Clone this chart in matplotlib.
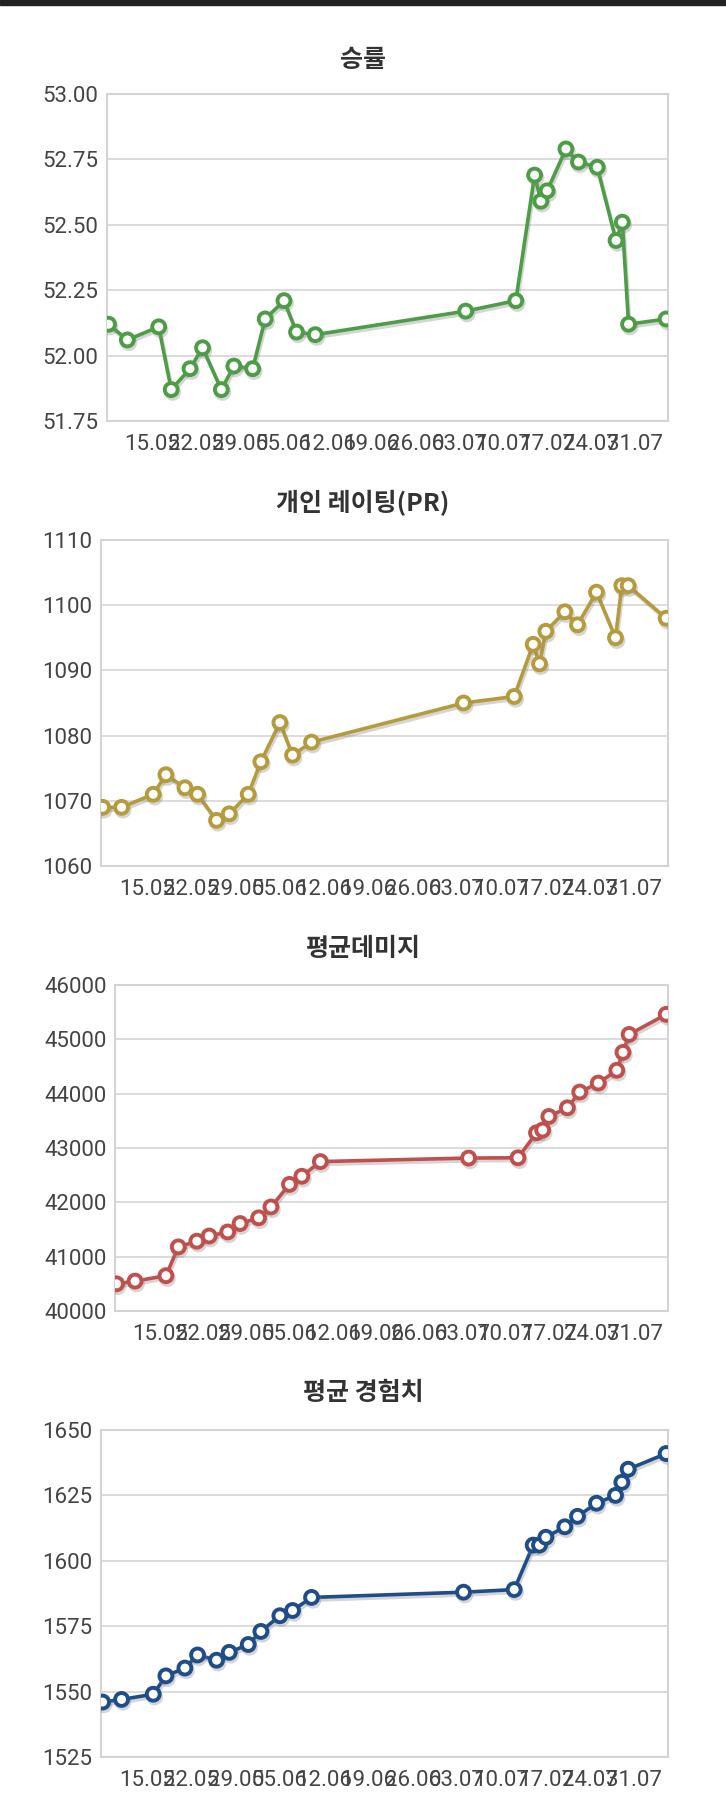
import matplotlib
matplotlib.use('Agg')
import matplotlib.pyplot as plt
import matplotlib.dates as mdates
import matplotlib.patheffects as pe
import pandas as pd

# dates of the records (day.month on the axis)
dates = ['2023-05-08', '2023-05-11', '2023-05-16', '2023-05-18', '2023-05-21',
         '2023-05-23', '2023-05-26', '2023-05-28', '2023-05-31', '2023-06-02',
         '2023-06-05', '2023-06-07', '2023-06-10', '2023-07-04', '2023-07-12',
         '2023-07-15', '2023-07-16', '2023-07-17', '2023-07-20', '2023-07-22',
         '2023-07-25', '2023-07-28', '2023-07-29', '2023-07-30', '2023-08-05']

win_rate = [52.12, 52.06, 52.11, 51.87, 51.95, 52.03, 51.87, 51.96, 51.95, 52.14,
            52.21, 52.09, 52.08, 52.17, 52.21, 52.69, 52.59, 52.63, 52.79, 52.74,
            52.72, 52.44, 52.51, 52.12, 52.14]

rating = [1069, 1069, 1071, 1074, 1072, 1071, 1067, 1068, 1071, 1076,
          1082, 1077, 1079, 1085, 1086, 1094, 1091, 1096, 1099, 1097,
          1102, 1095, 1103, 1103, 1098]

damage = [40500, 40550, 40650, 41180, 41285, 41380, 41455, 41610, 41715, 41915,
          42330, 42480, 42750, 42815, 42820, 43280, 43330, 43580, 43740, 44030,
          44195, 44430, 44760, 45090, 45460]

exp = [1546, 1547, 1549, 1556, 1559, 1564, 1562, 1565, 1568, 1573,
       1579, 1581, 1586, 1588, 1589, 1606, 1606, 1609, 1613, 1617,
       1622, 1625, 1630, 1635, 1641]

titles = ['승률', '개인 레이팅(PR)', '평균데미지', '평균 경험치']
colors = ['#4c9d46', '#b59b3b', '#c0504d', '#1f4d8a']
y_ticks = [[51.75, 52.00, 52.25, 52.50, 52.75, 53.00],
           [1060, 1070, 1080, 1090, 1100, 1110],
           [40000, 41000, 42000, 43000, 44000, 45000, 46000],
           [1525, 1550, 1575, 1600, 1625, 1650]]
y_fmt = ['{:.2f}', '{:d}', '{:d}', '{:d}']
x_ticks = ['2023-05-15', '2023-05-22', '2023-05-29', '2023-06-05', '2023-06-12',
           '2023-06-19', '2023-06-26', '2023-07-03', '2023-07-10', '2023-07-17',
           '2023-07-24', '2023-07-31']

W, H = 726, 1794
# plot boxes in pixels: left, right, top, bottom ; title centre y
boxes = [(107, 668, 94, 421), (101, 668, 540, 866),
         (115, 668, 985, 1311), (101, 668, 1430, 1757)]
title_y = [60, 503, 949, 1393]

TICK_FONT = ['Roboto', 'Noto Sans CJK KR', 'DejaVu Sans']
TITLE_FONT = ['Noto Sans CJK KR', 'DejaVu Sans']


def draw_chart(fig, box, x, y, color, ticks, fmt):
    l, r, t, b = box
    ax = fig.add_axes([l / W, 1 - b / H, (r - l) / W, (b - t) / H])
    ax.plot(x, y, color=color, lw=2.6, marker='o', ms=9.3,
            mfc='white', mec=color, mew=2.8, zorder=3,
            path_effects=[pe.SimpleLineShadow(offset=(1, -2), shadow_color='#888888', alpha=0.35),
                          pe.Normal()])
    ax.set_xlim(x[0] - pd.Timedelta(hours=6), x[-1] + pd.Timedelta(hours=7))
    ax.set_ylim(ticks[0], ticks[-1])
    ax.set_yticks(ticks)
    ax.set_yticklabels([fmt.format(v) for v in ticks])
    ax.set_xticks(pd.to_datetime(x_ticks))
    ax.xaxis.set_major_formatter(mdates.DateFormatter('%d.%m'))
    ax.grid(axis='y', color='#d9d9d9', lw=1.3)
    ax.set_axisbelow(True)
    for s in ax.spines.values():
        s.set_color('#d4d4d4')
        s.set_linewidth(1.5)
    ax.tick_params(length=0, labelsize=16, labelcolor='#444444')
    ax.tick_params(axis='y', pad=6)
    ax.tick_params(axis='x', pad=9)
    for lab in ax.get_xticklabels() + ax.get_yticklabels():
        lab.set_family(TICK_FONT)
    return ax


def main():
    x = pd.to_datetime(dates)
    series = [win_rate, rating, damage, exp]

    fig = plt.figure(figsize=(W / 100, H / 100), dpi=100)
    fig.patches.append(plt.Rectangle((0, 1 - 5 / H), 1, 5 / H, transform=fig.transFigure,
                                     color='#222222', zorder=10))

    for i in range(4):
        draw_chart(fig, boxes[i], x, series[i], colors[i], y_ticks[i], y_fmt[i])
        fig.text(0.5, 1 - title_y[i] / H, titles[i], ha='center', va='center',
                 fontsize=18, fontweight='bold', color='#333333', family=TITLE_FONT)

    fig.savefig('out.png', dpi=100)


if __name__ == '__main__':
    main()
